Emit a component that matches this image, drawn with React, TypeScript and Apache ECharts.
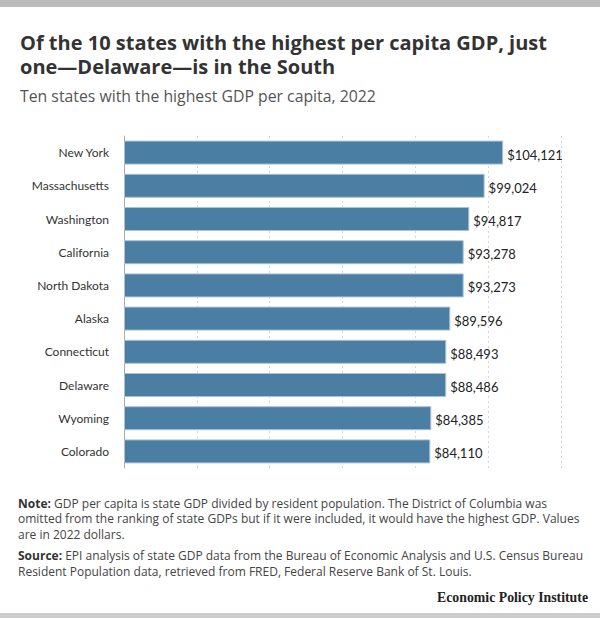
import React, { useEffect, useRef } from "react";
import * as echarts from "echarts";

const states = [
  "New York",
  "Massachusetts",
  "Washington",
  "California",
  "North Dakota",
  "Alaska",
  "Connecticut",
  "Delaware",
  "Wyoming",
  "Colorado",
];
const gdpPerCapita = [104121, 99024, 94817, 93278, 93273, 89596, 88493, 88486, 84385, 84110];
const xTicks = [0, 20000, 40000, 60000, 80000, 100000, 120000];

const titleLines = [
  "Of the 10 states with the highest per capita GDP, just",
  "one\u2014Delaware\u2014is in the South",
];
const subtitle = "Ten states with the highest GDP per capita, 2022";
const noteLines = [
  "GDP per capita is state GDP divided by resident population. The District of Columbia was",
  "omitted from the ranking of state GDPs but if it were included, it would have the highest GDP. Values",
  "are in 2022 dollars.",
];
const sourceLines = [
  "EPI analysis of state GDP data from the Bureau of Economic Analysis and U.S. Census Bureau",
  "Resident Population data, retrieved from FRED, Federal Reserve Bank of St. Louis.",
];

const FONT = "'Open Sans', Lato, sans-serif";
const LABEL_FONT = "Lato, 'Open Sans', sans-serif";

export default function App() {
  const ref = useRef<HTMLDivElement>(null);
  useEffect(() => {
    document.body.style.margin = "0";
    if (!ref.current) return;
    const chart = echarts.init(ref.current, null, { renderer: "svg" });
    const fmt = (v: number) => "$" + v.toLocaleString("en-US");

    const noteStyle = {
      fontSize: 12,
      fill: "#444444",
      fontFamily: FONT,
      verticalAlign: "middle",
      rich: { b: { fontWeight: "bold", fontSize: 12, fill: "#333333", fontFamily: FONT } },
    };
    const noteMiddles = [503, 518.6, 534.2];
    const sourceMiddles = [555.3, 571];
    const footText: any[] = [];
    noteLines.forEach((t, i) =>
      footText.push({
        type: "text",
        x: 18,
        y: noteMiddles[i],
        style: { ...noteStyle, text: (i === 0 ? "{b|Note:} " : "") + t },
      })
    );
    sourceLines.forEach((t, i) =>
      footText.push({
        type: "text",
        x: 18,
        y: sourceMiddles[i],
        style: { ...noteStyle, text: (i === 0 ? "{b|Source:} " : "") + t },
      })
    );

    chart.setOption({
      animation: false,
      backgroundColor: "#ffffff",
      textStyle: { fontFamily: FONT },
      grid: { left: 124, right: 39, top: 136, height: 332, containLabel: false },
      xAxis: {
        type: "value",
        min: xTicks[0],
        max: xTicks[xTicks.length - 1],
        interval: 20000,
        axisLabel: { show: false },
        axisLine: { show: false },
        axisTick: { show: false },
        splitLine: { show: true, lineStyle: { color: "#d6d6d6", type: [2, 3], width: 1 } },
      },
      yAxis: {
        type: "category",
        data: states,
        inverse: true,
        axisLine: { show: true, lineStyle: { color: "#aaaaaa", width: 1 } },
        axisTick: { show: false },
        axisLabel: { color: "#333333", fontSize: 12, margin: 15, fontFamily: LABEL_FONT },
      },
      series: [
        {
          type: "bar",
          data: gdpPerCapita,
          barWidth: 24,
          itemStyle: { color: "#4a7fa3", borderColor: "#a8c3d6", borderWidth: 1 },
          label: {
            show: true,
            position: "right",
            distance: 4,
            offset: [0, 2],
            formatter: (p: any) => fmt(p.value),
            color: "#222222",
            fontSize: 13,
            fontFamily: LABEL_FONT,
          },
        },
      ],
      graphic: [
        { type: "rect", shape: { x: 0, y: 0, width: 600, height: 7 }, style: { fill: "#bbbbbb" } },
        {
          type: "text",
          x: 20,
          y: 42.3,
          style: {
            text: titleLines[0],
            fontSize: 20,
            fontWeight: "bold",
            fill: "#333333",
            fontFamily: FONT,
            verticalAlign: "middle",
          },
        },
        {
          type: "text",
          x: 20,
          y: 66.7,
          style: {
            text: titleLines[1],
            fontSize: 20,
            fontWeight: "bold",
            fill: "#333333",
            fontFamily: FONT,
            verticalAlign: "middle",
          },
        },
        {
          type: "text",
          x: 20,
          y: 96.4,
          style: {
            text: subtitle,
            fontSize: 15.8,
            fill: "#555555",
            fontFamily: FONT,
            verticalAlign: "middle",
          },
        },
        ...footText,
        {
          type: "text",
          x: 588,
          y: 597,
          style: {
            text: "Economic Policy Institute",
            fontSize: 13.8,
            fontWeight: "bold",
            fill: "#222222",
            fontFamily: "'Liberation Serif', 'DejaVu Serif', serif",
            align: "right",
            verticalAlign: "middle",
          },
        },
        { type: "rect", shape: { x: 0, y: 613, width: 600, height: 5 }, style: { fill: "#cccccc" } },
      ],
    });
    return () => chart.dispose();
  }, []);
  return <div ref={ref} style={{ width: 600, height: 618 }} />;
}
